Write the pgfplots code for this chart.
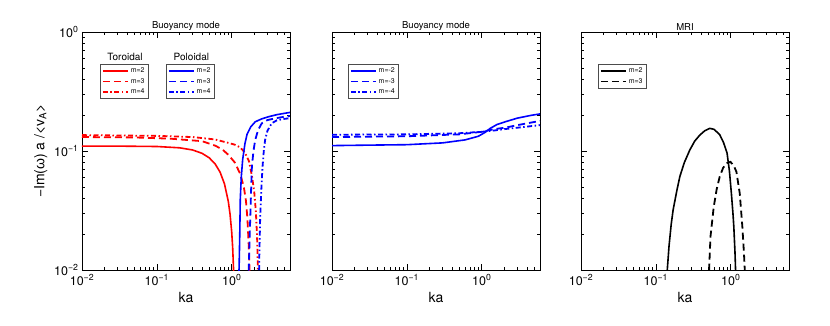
\documentclass[border=0pt]{standalone}
\usepackage{fontspec}
\setmainfont{TeX Gyre Heros}
\newfontfamily\greekfont{Liberation Sans}
\usepackage{pgfplots}
\pgfplotsset{compat=1.18}
\pgfplotsset{legend image code/.code={\draw[#1] (0bp,0bp) -- (25bp,0bp);}}
\newcommand\tl{\fontsize{12.5bp}{14bp}\selectfont}

\begin{document}
\begin{tikzpicture}
\useasboundingbox (0,0) rectangle (830bp,326bp);

% panel 1: toroidal
\begin{axis}[at={(82bp,56bp)}, anchor=south west,
  xmode=log, ymode=log, scale only axis, width=208bp, height=238bp,
  xmin=0.01, xmax=6, ymin=0.01, ymax=1,
  xtick={0.01,0.1,1},
  xticklabels={10\textsuperscript{−2},10\textsuperscript{−1},10\textsuperscript{0}},
  minor xtick={0.02,0.03,0.04,0.05,0.06,0.07,0.08,0.09,0.2,0.3,0.4,0.5,0.6,0.7,0.8,0.9,2,3,4,5,6},
  ytick={0.01,0.1,1},
  yticklabels={10\textsuperscript{−2},10\textsuperscript{−1},10\textsuperscript{0}},
  minor ytick={0.02,0.03,0.04,0.05,0.06,0.07,0.08,0.09,0.2,0.3,0.4,0.5,0.6,0.7,0.8,0.9},
  tick align=inside, major tick length=6bp, minor tick length=3.5bp,
  tick style={black, line width=0.6bp}, axis line style={line width=0.8bp},
  ticklabel style={font=\tl}, xticklabel style={yshift=-1bp},
  xlabel={ka}, xlabel style={font=\fontsize{14bp}{16bp}\selectfont},
  ylabel={−Im({\greekfont ω}) a /<v\textsubscript{A}>},
  ylabel style={font=\fontsize{14bp}{16bp}\selectfont},
  title={Buoyancy mode},
  title style={font=\fontsize{9.5bp}{11bp}\selectfont, at={(0.5,1)}, anchor=south, yshift=-8bp},
  legend style={font=\fontsize{7bp}{8bp}\selectfont, draw=black!70, line width=0.8bp,
    inner xsep=1.5bp, inner ysep=1.5bp, row sep=0bp, cells={anchor=west},
    at={(0.087,0.866)}, anchor=north west},
  legend cell align=left]
\addplot[red, line width=1.6bp] coordinates {
 (0.01,0.110) (0.03,0.1099) (0.1,0.1091) (0.2,0.1064) (0.3,0.1020) (0.4,0.0957)
 (0.5,0.0877) (0.6,0.0779) (0.7,0.0663) (0.8,0.0529) (0.9,0.0377) (0.95,0.0294)
 (1.0,0.0207) (1.03,0.0153) (1.06,0.0097) (1.07,0.008)
};
\addplot[red, line width=1.8bp, dash pattern=on 7bp off 4bp] coordinates {
 (0.01,0.131) (0.05,0.130) (0.15,0.127) (0.4,0.121) (0.6,0.111) (0.75,0.103)
 (0.9,0.093) (1.1,0.080) (1.3,0.064) (1.45,0.050) (1.55,0.038) (1.62,0.027)
 (1.68,0.017) (1.72,0.011) (1.74,0.008)
};
\addplot[red, line width=1.8bp, dash pattern=on 5bp off 2.5bp on 1.5bp off 2.5bp] coordinates {
 (0.01,0.136) (0.1,0.134) (0.3,0.131) (0.6,0.125) (0.9,0.117) (1.1,0.113)
 (1.3,0.107) (1.5,0.097) (1.7,0.082) (1.86,0.062) (2.0,0.045) (2.1,0.031)
 (2.18,0.019) (2.23,0.011) (2.25,0.008)
};
\legend{m=2,m=3,m=4}
\node[font=\fontsize{10bp}{12bp}\selectfont] at (rel axis cs:0.207,0.894) {Toroidal};
\node[font=\fontsize{10bp}{12bp}\selectfont] at (rel axis cs:0.526,0.894) {Poloidal};
\end{axis}

% panel 1: poloidal, same box
\begin{axis}[at={(82bp,56bp)}, anchor=south west,
  xmode=log, ymode=log, scale only axis, width=208bp, height=238bp,
  xmin=0.01, xmax=6, ymin=0.01, ymax=1, hide axis,
  legend style={font=\fontsize{7bp}{8bp}\selectfont, draw=black!70, line width=0.8bp,
    inner xsep=1.5bp, inner ysep=1.5bp, row sep=0bp, cells={anchor=west},
    at={(0.404,0.866)}, anchor=north west},
  legend cell align=left]
\addplot[blue, line width=1.6bp] coordinates {
 (1.24,0.008) (1.26,0.012) (1.28,0.020) (1.30,0.039) (1.34,0.060) (1.40,0.085)
 (1.5,0.115) (1.6,0.138) (1.8,0.160) (2.06,0.176) (2.5,0.186) (3.09,0.194)
 (4,0.202) (5,0.207) (6,0.211)
};
\addplot[blue, line width=1.8bp, dash pattern=on 7bp off 4bp] coordinates {
 (1.67,0.008) (1.70,0.012) (1.74,0.020) (1.77,0.028) (1.82,0.050) (1.86,0.074)
 (1.95,0.100) (2.06,0.124) (2.25,0.150) (2.52,0.171) (3,0.182) (3.79,0.188)
 (5,0.194) (6,0.197)
};
\addplot[blue, line width=1.8bp, dash pattern=on 5bp off 2.5bp on 1.5bp off 2.5bp] coordinates {
 (2.31,0.008) (2.34,0.014) (2.40,0.028) (2.50,0.052) (2.58,0.074) (2.68,0.100)
 (2.79,0.124) (3.0,0.148) (3.42,0.171) (4,0.181) (5,0.186) (6,0.189)
};
\legend{m=2,m=3,m=4}
\end{axis}

% panel 2
\begin{axis}[at={(332bp,56bp)}, anchor=south west,
  xmode=log, ymode=log, scale only axis, width=208bp, height=238bp,
  xmin=0.01, xmax=6, ymin=0.01, ymax=1,
  xtick={0.01,0.1,1},
  xticklabels={10\textsuperscript{−2},10\textsuperscript{−1},10\textsuperscript{0}},
  minor xtick={0.02,0.03,0.04,0.05,0.06,0.07,0.08,0.09,0.2,0.3,0.4,0.5,0.6,0.7,0.8,0.9,2,3,4,5,6},
  ytick={0.01,0.1,1}, yticklabels={},
  minor ytick={0.02,0.03,0.04,0.05,0.06,0.07,0.08,0.09,0.2,0.3,0.4,0.5,0.6,0.7,0.8,0.9},
  tick align=inside, major tick length=6bp, minor tick length=3.5bp,
  tick style={black, line width=0.6bp}, axis line style={line width=0.8bp},
  ticklabel style={font=\tl}, xticklabel style={yshift=-1bp},
  xlabel={ka}, xlabel style={font=\fontsize{14bp}{16bp}\selectfont},
  title={Buoyancy mode},
  title style={font=\fontsize{9.5bp}{11bp}\selectfont, at={(0.5,1)}, anchor=south, yshift=-8bp},
  legend style={font=\fontsize{7bp}{8bp}\selectfont, draw=black!70, line width=0.8bp,
    inner xsep=1.5bp, inner ysep=1.5bp, row sep=0bp, cells={anchor=west},
    at={(0.077,0.866)}, anchor=north west},
  legend cell align=left]
\addplot[blue, line width=1.6bp] coordinates {
 (0.01,0.111) (0.03,0.112) (0.1,0.113) (0.3,0.117) (0.6,0.124) (0.9,0.133)
 (1.1,0.143) (1.3,0.155) (1.6,0.167) (2.06,0.176) (3,0.189) (4.5,0.199) (6,0.205)
};
\addplot[blue, line width=1.8bp, dash pattern=on 7bp off 4bp] coordinates {
 (0.01,0.131) (0.1,0.133) (0.5,0.138) (1.0,0.145) (1.5,0.153) (2.06,0.157)
 (3,0.165) (6,0.179)
};
\addplot[blue, line width=1.8bp, dash pattern=on 5bp off 2.5bp on 1.5bp off 2.5bp] coordinates {
 (0.01,0.137) (0.1,0.138) (0.5,0.141) (1.0,0.145) (1.5,0.149) (2.06,0.153)
 (3,0.157) (6,0.165)
};
\legend{m=-2,m=-3,m=-4}
\end{axis}

% panel 3
\begin{axis}[at={(581bp,56bp)}, anchor=south west,
  xmode=log, ymode=log, scale only axis, width=208bp, height=238bp,
  xmin=0.01, xmax=6, ymin=0.01, ymax=1,
  xtick={0.01,0.1,1},
  xticklabels={10\textsuperscript{−2},10\textsuperscript{−1},10\textsuperscript{0}},
  minor xtick={0.02,0.03,0.04,0.05,0.06,0.07,0.08,0.09,0.2,0.3,0.4,0.5,0.6,0.7,0.8,0.9,2,3,4,5,6},
  ytick={0.01,0.1,1}, yticklabels={},
  minor ytick={0.02,0.03,0.04,0.05,0.06,0.07,0.08,0.09,0.2,0.3,0.4,0.5,0.6,0.7,0.8,0.9},
  tick align=inside, major tick length=6bp, minor tick length=3.5bp,
  tick style={black, line width=0.6bp}, axis line style={line width=0.8bp},
  ticklabel style={font=\tl}, xticklabel style={yshift=-1bp},
  xlabel={ka}, xlabel style={font=\fontsize{14bp}{16bp}\selectfont},
  title={MRI},
  title style={font=\fontsize{9.5bp}{11bp}\selectfont, at={(0.5,1)}, anchor=south, yshift=-8bp},
  legend style={font=\fontsize{7bp}{8bp}\selectfont, draw=black!70, line width=0.8bp,
    inner xsep=1.5bp, inner ysep=1.5bp, row sep=0bp, cells={anchor=west},
    at={(0.082,0.866)}, anchor=north west},
  legend cell align=left]
\addplot[black, line width=1.6bp] coordinates {
 (0.140,0.008) (0.142,0.010) (0.150,0.016) (0.160,0.024) (0.170,0.032) (0.19,0.046)
 (0.209,0.061) (0.24,0.080) (0.284,0.102) (0.33,0.121) (0.386,0.136) (0.45,0.148)
 (0.525,0.155) (0.6,0.152) (0.713,0.137) (0.8,0.118) (0.893,0.096) (0.96,0.068)
 (1.02,0.044) (1.07,0.030) (1.10,0.023) (1.14,0.014) (1.16,0.010) (1.17,0.008)
};
\addplot[black, line width=1.8bp, dash pattern=on 7bp off 4bp] coordinates {
 (0.512,0.008) (0.514,0.010) (0.536,0.019) (0.593,0.034) (0.65,0.048) (0.713,0.061)
 (0.79,0.072) (0.875,0.079) (0.99,0.081) (1.09,0.076) (1.19,0.067) (1.32,0.044)
 (1.43,0.023) (1.50,0.014) (1.54,0.010) (1.55,0.008)
};
\legend{m=2,m=3}
\end{axis}
\end{tikzpicture}
\end{document}
